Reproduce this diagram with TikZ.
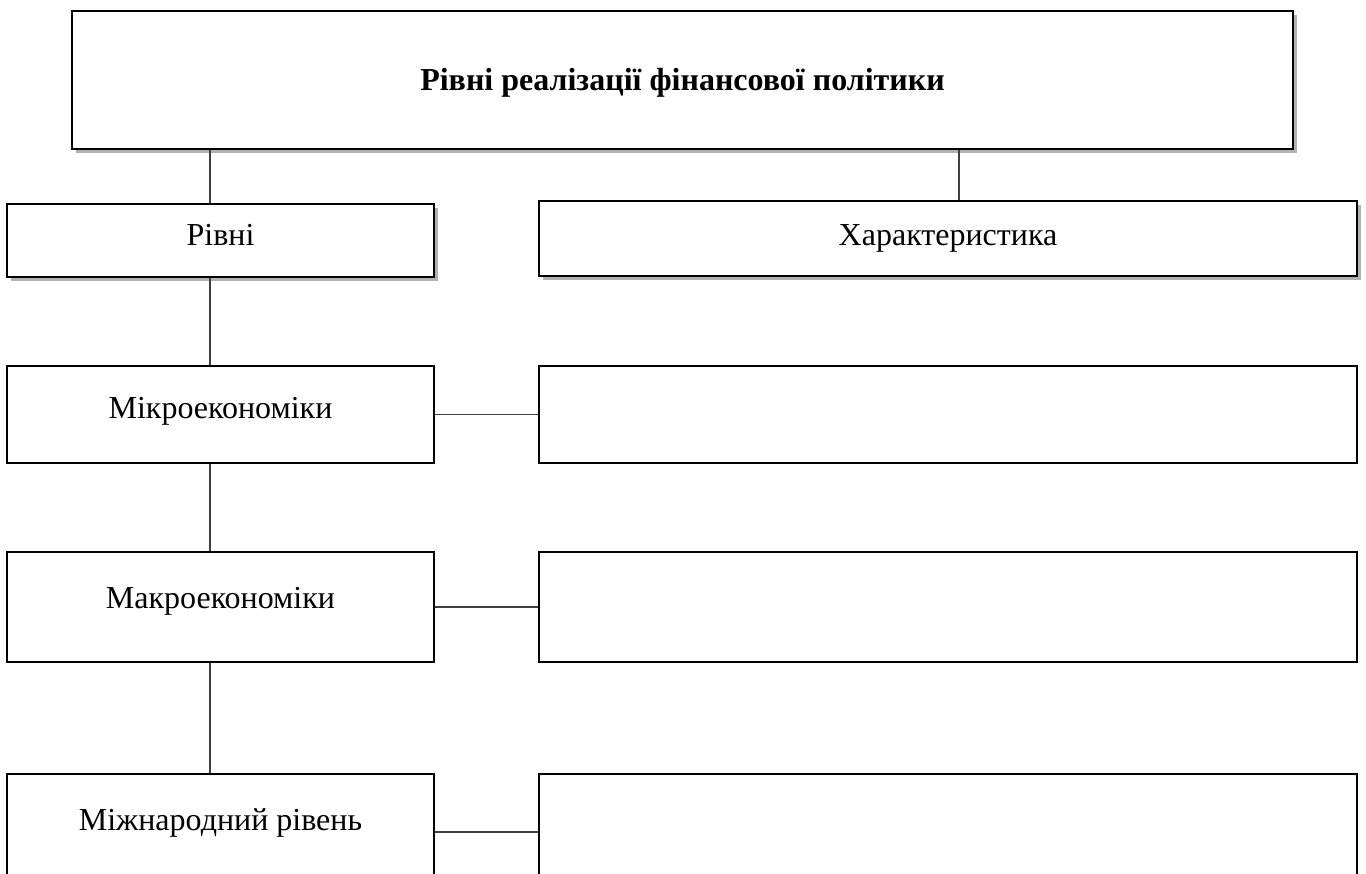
\documentclass[tikz,border=0pt]{standalone}
\usepackage{fontspec}
\setmainfont{Liberation Serif}
\usetikzlibrary{shadows}
\tikzset{
  box/.style={draw, line width=2pt, fill=white, inner sep=0pt, text height=24pt,
    font=\fontsize{32}{38}\selectfont},
  shbox/.style={box, drop shadow={shadow xshift=4pt, shadow yshift=-4pt, fill=gray!60, opacity=1}},
  link/.style={draw=black!75, line width=1.2pt}
}
\begin{document}
\begin{tikzpicture}[x=1pt,y=-1pt]
\useasboundingbox (0,0) rectangle (1366,874);
% header
\node[shbox, minimum width=1221pt, minimum height=138pt, text depth=2pt,
  font=\fontsize{32}{38}\selectfont\bfseries] (top) at (682.5,80) {Рівні реалізації фінансової політики};
\node[shbox, minimum width=427pt, minimum height=73pt, text depth=13pt] (rivni) at (220.5,240.5) {Рівні};
\node[shbox, minimum width=818pt, minimum height=75pt, text depth=9pt] (char) at (948,238.5) {Характеристика};
% levels
\node[box, minimum width=427pt, minimum height=97pt, text depth=15pt] (micro) at (220.5,414.5) {Мікроекономіки};
\node[box, minimum width=427pt, minimum height=110pt, text depth=22pt] (macro) at (220.5,607) {Макроекономіки};
\node[box, minimum width=427pt, minimum height=116pt, text depth=28pt] (inter) at (220.5,832) {Міжнародний рівень};
\node[box, minimum width=818pt, minimum height=97pt] (microR) at (948,414.5) {};
\node[box, minimum width=818pt, minimum height=110pt] (macroR) at (948,607) {};
\node[box, minimum width=818pt, minimum height=116pt] (interR) at (948,832) {};
% connectors
\coordinate (spine) at (210,0);
\coordinate (spineR) at (959,0);
\draw[link] (top.south -| spine) -- (rivni.north -| spine);
\draw[link] (top.south -| spineR) -- (char.north -| spineR);
\draw[link] (rivni.south -| spine) -- (micro.north -| spine);
\draw[link] (micro.south -| spine) -- (macro.north -| spine);
\draw[link] (macro.south -| spine) -- (inter.north -| spine);
\draw[link] (micro.east) -- (microR.west);
\draw[link] (macro.east) -- (macroR.west);
\draw[link] (inter.east) -- (interR.west);
\end{tikzpicture}
\end{document}
